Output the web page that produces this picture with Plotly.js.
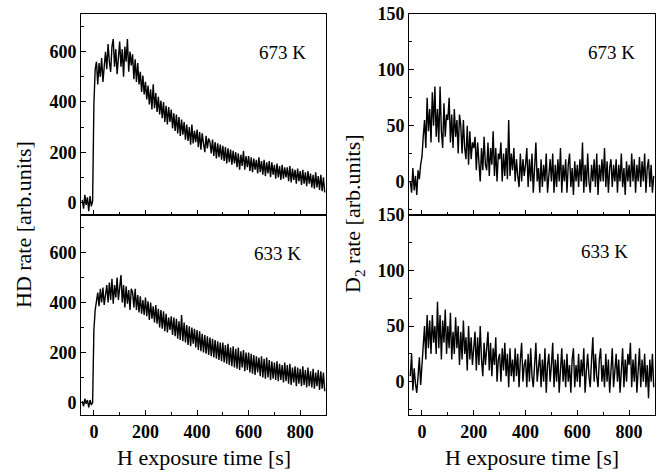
<!DOCTYPE html>
<html><head><meta charset="utf-8">
<script src="https://cdn.plot.ly/plotly-3.0.1.min.js"></script>
<style>html,body{margin:0;padding:0;background:#fff}#chart{width:657px;height:472px}</style>
</head><body><div id="chart"></div>
<script>
// time axis: start and step of the sampled traces (s)
var tStart = -45, tStep = 5;

var hd673 = [10,-25,30,-10,20,-35,25,-15,5,
390,530,560,470,555,500,575,480,560,600,
530,630,560,520,620,650,540,610,510,600,
640,540,610,500,620,560,650,520,600,545,
590,490,570,480,555,470,520,440,505,430,
480,410,465,390,450,370,470,375,435,360,
420,350,405,335,400,320,385,310,380,320,
370,295,355,285,350,275,340,265,330,270,
320,250,310,245,300,230,310,235,285,240,
290,220,280,210,275,235,200,265,215,255,
240,195,250,185,240,175,235,180,230,170,
225,165,220,155,215,160,210,150,205,155,
200,140,195,130,190,145,205,130,185,140,
185,125,180,120,175,130,170,115,180,120,
165,110,170,105,160,115,165,100,160,110,
150,95,155,100,145,90,150,95,140,100,
140,85,145,80,135,90,130,75,135,85,
125,70,130,75,120,65,125,75,115,60,
110,55,120,60,105,50,110,45,100,40];

var hd633 = [5,-15,15,-5,10,-20,10,-10,0,
290,370,410,440,385,455,400,460,390,445,
470,400,480,410,495,395,470,420,500,410,
480,510,400,470,380,465,395,450,370,455,
440,380,455,370,430,360,425,355,410,350,
420,345,405,330,400,335,385,320,390,315,
375,300,370,295,365,285,355,280,340,290,
345,270,340,265,335,255,325,250,350,245,
320,240,310,230,305,225,300,235,295,220,
290,210,285,205,275,200,270,195,265,190,
260,185,255,180,250,175,245,170,240,165,
240,160,230,155,235,150,220,145,225,140,
215,135,220,130,205,140,210,125,200,130,
200,120,195,115,190,110,185,120,180,105,
185,100,175,95,180,100,170,90,165,95,
160,90,165,85,155,90,150,80,160,85,
150,75,155,70,140,80,145,65,140,75,
135,65,145,70,130,60,140,65,125,60,
135,55,120,65,130,50,125,55,120,45];

var d2_673 = [0,-10,12,-8,5,-12,10,2,15,
22,40,55,30,75,45,65,35,80,50,
85,40,65,35,85,45,30,70,40,60,
55,75,35,60,30,65,40,55,25,60,
50,25,55,30,20,50,15,45,20,35,
30,40,10,35,15,0,30,10,40,15,
10,35,5,30,15,45,5,30,0,25,
20,35,0,25,5,30,2,55,5,25,
10,30,0,20,5,-5,25,0,20,5,
15,30,-5,20,0,25,-10,15,35,0,
12,-10,20,-5,15,0,25,-10,10,20,
0,25,-10,15,-5,20,0,30,-10,15,
0,20,-10,15,25,-5,12,-12,18,0,
15,-5,20,0,35,-10,15,-5,25,0,
-10,15,0,20,-5,25,-12,15,0,20,
0,30,-5,18,-10,12,20,-5,15,0,
20,-10,15,0,25,-5,12,-12,18,0,
15,-5,25,0,20,-10,15,0,22,-5,
18,0,25,-10,12,20,-5,15,-10,5];

var d2_633 = [5,25,-8,12,-2,-10,5,22,-3,
15,35,50,20,60,30,55,25,60,35,
50,25,72,30,60,20,55,35,65,25,
50,30,62,20,45,25,58,30,50,15,
45,20,55,25,40,10,50,20,40,15,
35,45,10,40,15,50,20,5,35,15,
30,45,10,35,5,30,15,40,0,20,
25,0,30,10,35,5,25,-5,30,5,
20,0,30,5,25,-5,20,35,0,15,
20,-5,25,0,30,5,-5,20,35,0,
15,25,-5,20,0,30,-10,15,25,0,
15,35,-5,20,0,25,-10,15,30,0,
20,-5,25,0,15,-10,20,30,-5,15,
0,25,-5,20,5,30,-10,10,25,5,
-5,20,40,0,25,5,-5,20,30,0,
15,-5,25,0,20,-10,15,30,-5,15,
25,0,20,-10,15,30,-5,20,0,25,
15,35,-5,20,0,25,-10,15,30,-5,
20,0,25,-5,15,-15,20,0,25,-5];

var panelLabels = ["673 K","633 K","673 K","633 K"];
var xTitle = "H exposure time [s]";
var yTitleLeft = "HD rate [arb.units]";
var yTitleRight = "D<sub>2</sub> rate [arb.units]";
var xTickVals = [0,200,400,600,800];

function times(n){var t=[];for(var i=0;i<n;i++)t.push(tStart+i*tStep);return t;}

var W=657,H=472;
function px(x){return x/W;} function py(y){return 1-y/H;}

var FONT="'Liberation Serif', 'Times New Roman', Times, serif";
var lineStyle={color:"#000",width:1.4};
var traces=[
 {x:times(hd673.length),y:hd673,xaxis:"x",yaxis:"y",mode:"lines",line:lineStyle,hoverinfo:"skip"},
 {x:times(hd633.length),y:hd633,xaxis:"x2",yaxis:"y2",mode:"lines",line:lineStyle,hoverinfo:"skip"},
 {x:times(d2_673.length),y:d2_673,xaxis:"x3",yaxis:"y3",mode:"lines",line:lineStyle,hoverinfo:"skip"},
 {x:times(d2_633.length),y:d2_633,xaxis:"x4",yaxis:"y4",mode:"lines",line:lineStyle,hoverinfo:"skip"}
];

function xax(dom,anchor,labels){
 return {domain:dom,anchor:anchor,range:[-50,900],showline:true,mirror:true,linecolor:"#000",linewidth:1,
  ticks:"inside",ticklen:5,tickwidth:1,tickcolor:"#000",tickvals:xTickVals,showticklabels:labels,
  minor:{dtick:100,tick0:0,ticks:"inside",ticklen:3,tickcolor:"#000"},
  showgrid:false,zeroline:false,tickfont:{family:FONT,size:18,color:"#000",weight:"bold"}};
}
function yax(dom,anchor,range,mdt,vals){
 return {domain:dom,anchor:anchor,range:range,showline:true,mirror:true,linecolor:"#000",linewidth:1,
  ticks:"inside",ticklen:5,tickwidth:1,tickcolor:"#000",tickvals:vals,
  minor:{dtick:mdt,tick0:0,ticks:"inside",ticklen:3,tickcolor:"#000"},
  showgrid:false,zeroline:false,tickfont:{family:FONT,size:18,color:"#000",weight:"bold"}};
}
var xL=[px(81),px(326)], xR=[px(409),px(655)];
var yT=[py(215),py(14)], yB=[py(415),py(215)];

function ann(text,x,y,size,angle){
 return {text:text,x:px(x),y:py(y),xref:"paper",yref:"paper",xanchor:"center",yanchor:"middle",
  showarrow:false,textangle:angle||0,font:{family:FONT,size:size,color:"#000"}};
}

var layout={width:W,height:H,margin:{l:0,r:0,t:0,b:0},showlegend:false,
 paper_bgcolor:"#fff",plot_bgcolor:"#fff",
 xaxis:xax(xL,"y",false), yaxis:yax(yT,"x",[-50,750],100,[0,200,400,600]),
 xaxis2:xax(xL,"y2",true), yaxis2:yax(yB,"x2",[-50,750],100,[0,200,400,600]),
 xaxis3:xax(xR,"y3",false), yaxis3:yax(yT,"x3",[-30,150],25,[0,50,100,150]),
 xaxis4:xax(xR,"y4",true), yaxis4:yax(yB,"x4",[-30,150],25,[0,50,100,150]),
 annotations:[
  ann(panelLabels[0],282,52,19), ann(panelLabels[1],277,253,19),
  ann(panelLabels[2],611,52,19), ann(panelLabels[3],604,251,19),
  ann(xTitle,204,457,22), ann(xTitle,532,457,22),
  ann(yTitleLeft,24,225,22,-90), ann(yTitleRight,354,214,22,-90)
 ]};
Plotly.newPlot("chart",traces,layout,{staticPlot:true,displayModeBar:false});
</script></body></html>
